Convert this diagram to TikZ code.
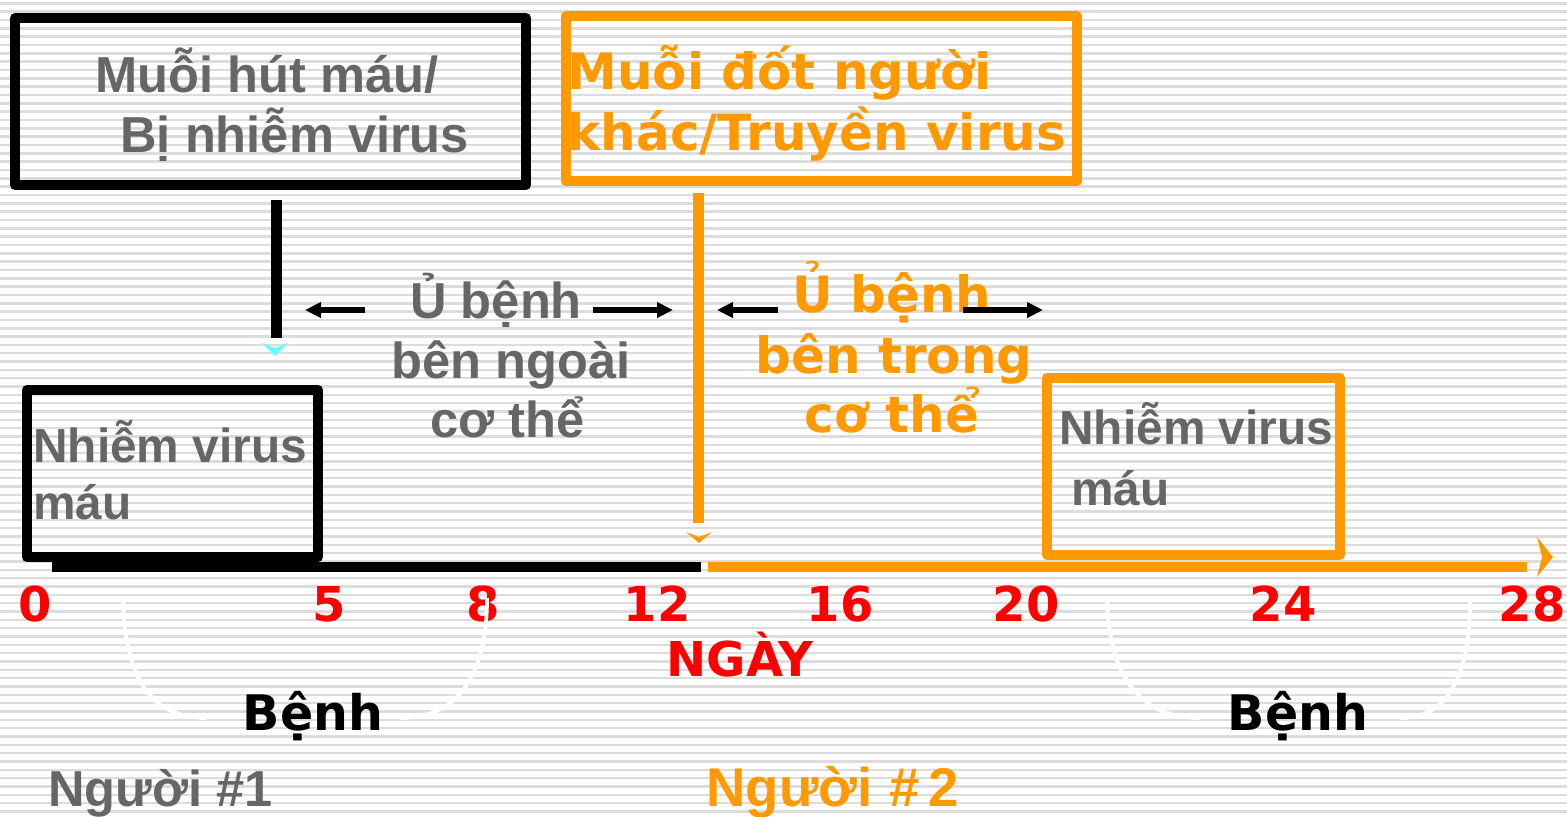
\documentclass[tikz,border=0pt]{standalone}
\usepackage{fontspec}
\setmainfont{Liberation Sans}
\newfontfamily\dv{DejaVu Sans}
\usetikzlibrary{arrows.meta}
\definecolor{txtgray}{HTML}{666666}
\definecolor{org}{HTML}{FF9900}
\definecolor{stripe}{HTML}{DCDCDC}
\definecolor{tipcyan}{HTML}{66FFFF}
\definecolor{numred}{HTML}{FF0000}
\begin{document}
\begin{tikzpicture}[x=0.5pt,y=0.5pt,
  artxt/.style={font=\bfseries\fontsize{25.3}{30}\selectfont, text=txtgray, inner sep=0pt, anchor=base west},
  arsmall/.style={font=\bfseries\fontsize{23.9}{28}\selectfont, text=txtgray, inner sep=0pt, anchor=base west},
  dvtxt/.style={font=\dv\bfseries\fontsize{25}{30}\selectfont, text=org, inner sep=0pt, anchor=base west},
  numtxt/.style={font=\dv\bfseries\fontsize{24}{28}\selectfont, text=numred, inner sep=0pt, anchor=base},
  benh/.style={font=\dv\bfseries\fontsize{24.5}{30}\selectfont, text=black, inner sep=0pt, anchor=base},
  blkbox/.style={draw=black, line width=5pt, line join=round, inner sep=0pt},
  orgbox/.style={draw=org, line width=5pt, line join=round, inner sep=0pt},
  arw/.style={draw=black, line width=2.6pt, -{Triangle[length=8pt,width=7.5pt]}},
  arcw/.style={draw=white, line width=1.9pt},
]
\useasboundingbox (0,0) rectangle (1567,-816);
% striped background
\fill[white] (0,0) rectangle (1567,-816);
\foreach \k in {0,...,97}
  \fill[stripe] (0,{-(2+8.333*\k)}) rectangle (1567,{-(4.5+8.333*\k)});

% boxes
\node[blkbox, minimum width=255.5pt, minimum height=83.5pt] (box1) at (270.5,-101.5) {};
\node[orgbox, minimum width=255.5pt, minimum height=82.5pt] (box2) at (821.5,-98.5) {};
\node[blkbox, minimum width=145.5pt, minimum height=83.5pt] (box3) at (172.5,-473.5) {};
\node[orgbox, minimum width=146.5pt, minimum height=88.5pt] (box4) at (1193.5,-466.5) {};

% box texts
\node[artxt] (t1a) at (95,-92) {Muỗi hút máu/};
\node[artxt] (t1b) at (120,-152) {Bị nhiễm virus};
\node[dvtxt] (t2a) at (567,-89) {Muỗi đốt người};
\node[dvtxt] (t2b) at (567,-150) {khác/Truyền virus};
\node[arsmall] (t3a) at (33,-462) {Nhiễm virus};
\node[arsmall] (t3b) at (33,-519) {máu};
\node[arsmall] (t4a) at (1059,-444) {Nhiễm virus};
\node[arsmall] (t4b) at (1071,-505) {máu};

% vertical lines
\coordinate (v1a) at (276,-200);
\coordinate (v1b) at (276,-338);
\coordinate (v2a) at (698.5,-193);
\coordinate (v2b) at (698.5,-523);
\draw[black, line width=5.5pt] (v1a) -- (v1b);
\draw[org, line width=5.2pt] (v2a) -- (v2b);
\fill[tipcyan] (262,-343) -- (275,-348) -- (288,-343) -- (275,-356) -- cycle;
\fill[org] (686,-532) -- (699,-537) -- (712,-532) -- (699,-543) -- cycle;

% time axis
\coordinate (ax0) at (52,-566.5);
\coordinate (ax1) at (701,-566.5);
\coordinate (ax2) at (708,-566.5);
\coordinate (ax3) at (1527,-566.5);
\draw[black, line width=5pt] (ax0) -- (ax1);
\draw[org, line width=5pt] (ax2) -- (ax3);
\fill[org] (1537,-537) -- (1553,-557) -- (1537,-577) -- (1542,-557) -- cycle;

% incubation arrows
\coordinate (a1s) at (365,-310); \coordinate (a1e) at (305,-310);
\coordinate (a2s) at (593,-310); \coordinate (a2e) at (673,-310);
\coordinate (a3s) at (778,-310); \coordinate (a3e) at (717,-310);
\coordinate (a4s) at (963,-310); \coordinate (a4e) at (1043,-310);
\draw[arw] (a1s) -- (a1e);
\draw[arw] (a2s) -- (a2e);

\node[artxt] (u1a) at (410,-318) {Ủ bệnh};
\node[artxt] (u1b) at (391,-378) {bên ngoài};
\node[artxt] (u1c) at (430,-437) {cơ thể};
\node[dvtxt] (u2a) at (792,-312) {Ủ bệnh};
\node[dvtxt] (u2b) at (755,-373) {bên trong};
\node[dvtxt] (u2c) at (804,-432) {cơ thể};
\draw[arw] (a3s) -- (a3e);
\draw[arw] (a4s) -- (a4e);

% day numbers
\node[numtxt] (n0) at (35,-621) {0};
\node[numtxt] (n5) at (329,-621) {5};
\node[numtxt] (n8) at (483,-621) {8};
\node[numtxt] (n12) at (657,-621) {12};
\node[numtxt] (n16) at (840,-621) {16};
\node[numtxt] (n20) at (1026,-621) {20};
\node[numtxt] (n24) at (1283,-621) {24};
\node[numtxt] (n28) at (1532,-621) {28};
\node[numtxt] (ngay) at (740,-676) {NGÀY};

% sickness brackets
\draw[arcw] (123,-599) .. controls (125,-670) and (145,-718) .. (207,-718);
\draw[arcw] (400,-718) .. controls (462,-718) and (487,-670) .. (487,-598);
\draw[arcw] (1107,-600) .. controls (1109,-670) and (1135,-718) .. (1200,-718);
\draw[arcw] (1400,-718) .. controls (1450,-718) and (1470,-672) .. (1470,-600);
\node[benh] (b1) at (313,-730) {Bệnh};
\node[benh] (b2) at (1298,-730) {Bệnh};

% persons
\node[artxt] (p1) at (48,-806) {Người \#1};
\node[artxt, font=\bfseries\fontsize{27.3}{30}\selectfont, text=org] (p2) at (706,-806) {Người \kern1pt\#\kern4pt 2};
\end{tikzpicture}
\end{document}
